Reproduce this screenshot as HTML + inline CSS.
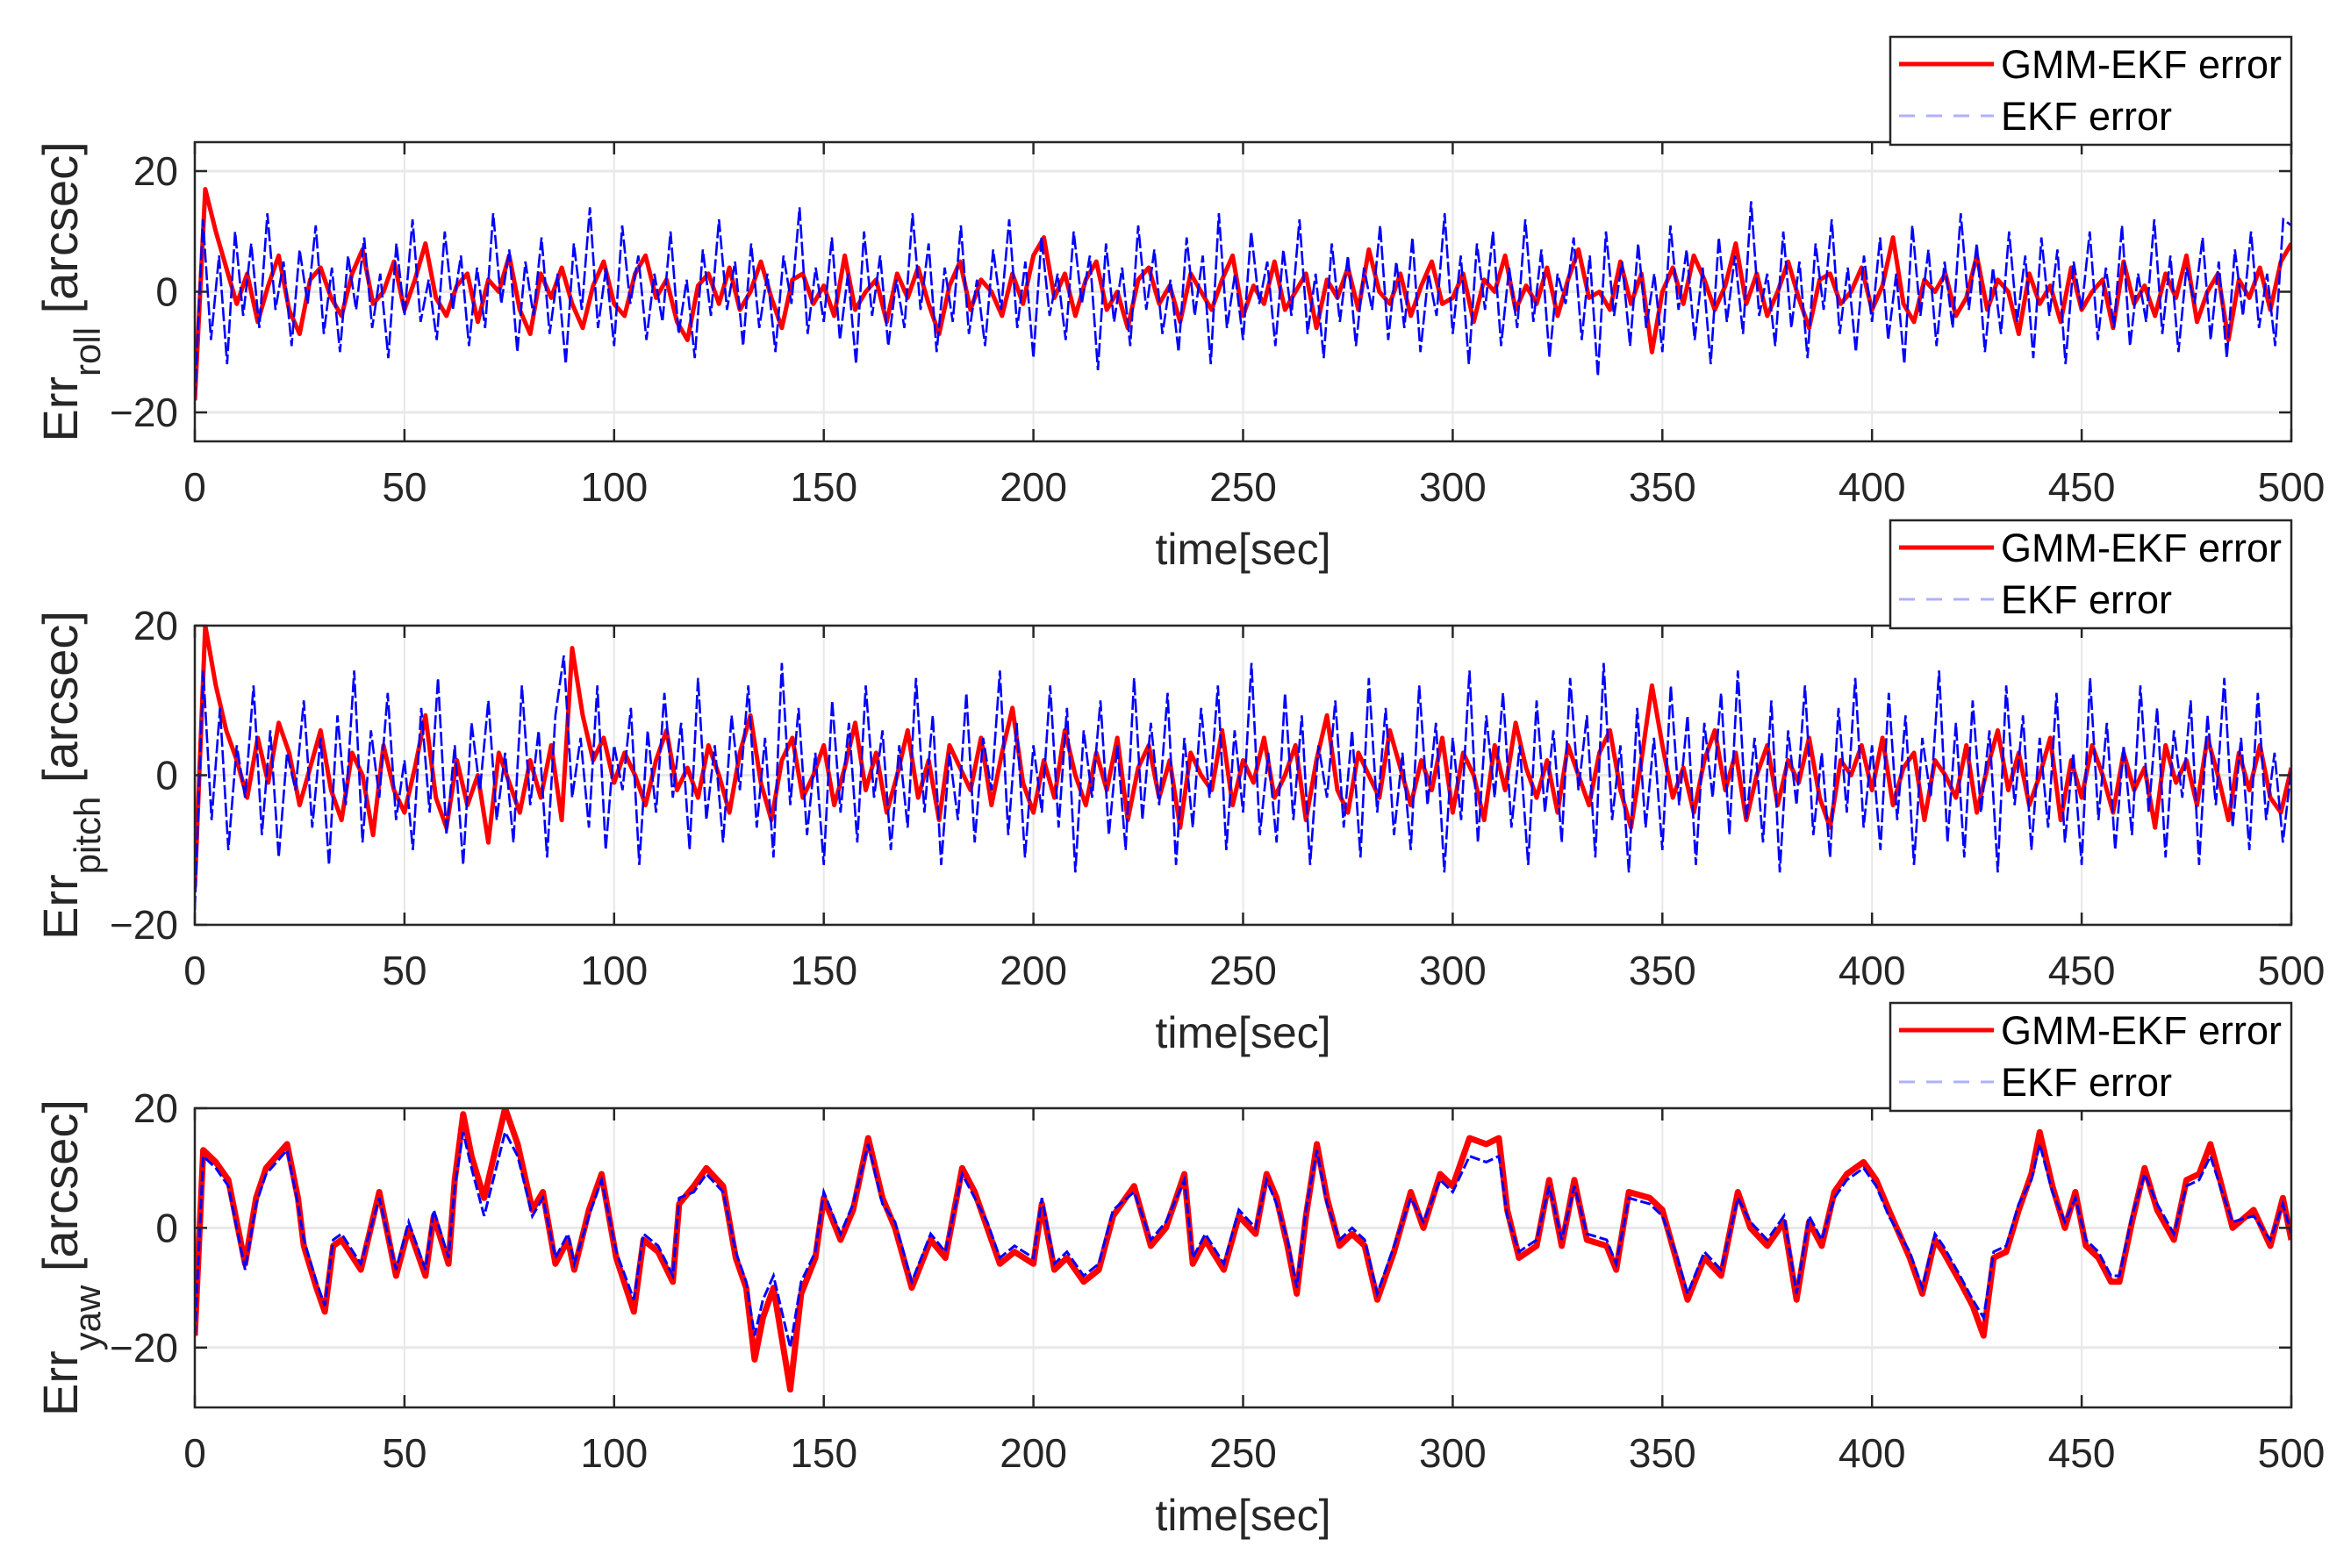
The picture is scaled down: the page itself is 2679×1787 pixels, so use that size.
<!DOCTYPE html>
<html><head><meta charset="utf-8"><style>
html,body{margin:0;padding:0;background:#fff;}
svg{display:block;font-family:"Liberation Sans",sans-serif;}
</style></head><body>
<svg id="chart" width="2679" height="1787" viewBox="0 0 2679 1787" xmlns="http://www.w3.org/2000/svg">
<rect width="2679" height="1787" fill="#fff"/>
</svg>
<script>
// ---------- data ----------
const xTicks = [0,50,100,150,200,250,300,350,400,450,500];
const rollYTicks = [-20,0,20];
const pitchYTicks = [-20,0,20];
const yawYTicks = [-20,0,20];

const rollBlue = [-18,12,-8,6,-12,10,-4,8,-6,13,-3,5,-9,7,-2,11,-7,4,-10,6,
-3,9,-6,3,-11,8,-4,12,-5,2,-8,10,-3,6,-9,4,-6,13,-2,7,
-10,5,-4,9,-7,3,-12,8,-3,14,-6,4,-9,11,-2,6,-8,3,-5,10,
-7,2,-11,7,-4,12,-3,5,-9,8,-6,3,-10,6,-2,14,-7,4,-5,9,
-8,3,-12,10,-4,6,-9,2,-6,13,-3,8,-10,4,-5,11,-7,2,-9,7,
-3,12,-6,5,-11,9,-4,3,-8,10,-2,6,-13,8,-5,4,-9,11,-3,7,
-7,2,-10,9,-4,6,-12,13,-6,3,-8,10,-2,5,-9,7,-4,12,-7,3,
-11,8,-5,6,-9,4,-3,11,-8,5,-6,9,-10,3,-4,13,-7,6,-12,8,
-3,10,-9,4,-6,12,-5,7,-11,3,-2,9,-8,6,-14,10,-4,5,-9,8,
-6,3,-10,11,-3,7,-8,4,-12,9,-5,6,-7,15,-4,3,-9,10,-6,5,
-11,8,-3,12,-7,4,-10,6,-5,9,-8,3,-12,11,-4,7,-9,5,-6,13,
-3,8,-10,4,-7,10,-5,6,-11,9,-4,7,-12,5,-3,10,-8,4,-6,11,
-9,3,-5,12,-7,6,-10,4,-2,9,-8,5,-11,7,-4,10,-6,3,-9,12,11];
const rollRed = [-18,17,10,4,-2,3,-5,1,6,-3,-7,2,4,-1,-4,3,7,-2,0,5,
-3,2,8,-1,-4,1,3,-5,2,0,6,-3,-7,3,-1,4,-2,-6,1,5,
-2,-4,3,6,-1,2,-5,-8,1,3,-2,4,-3,0,5,-1,-6,2,3,-2,
1,-4,6,-3,0,2,-5,3,-1,4,-2,-7,1,5,-3,2,0,-4,3,-2,
6,9,-1,3,-4,2,5,-3,0,-6,2,4,-2,1,-5,3,0,-3,2,6,
-4,1,-2,5,-3,0,3,-6,2,-1,4,-3,7,0,-2,3,-4,1,5,-2,
-1,3,-5,2,0,6,-3,1,-2,4,-4,2,7,-1,0,-3,5,-2,3,-10,
0,4,-2,6,2,-3,1,8,-2,3,-4,0,5,-1,-6,2,3,-2,0,4,
-3,1,9,-2,-5,2,0,3,-4,-1,6,-3,2,0,-7,3,-2,1,-5,4,
-3,0,2,-6,5,-2,1,-4,3,-1,6,-5,0,3,-8,2,-1,4,-3,5,8];

const pitchBlue = [-18,14,-6,9,-10,4,-3,12,-8,6,-11,3,-2,10,-7,5,-12,8,-4,14,
-9,6,-3,11,-6,2,-10,9,-5,13,-8,4,-12,7,-2,10,-6,3,-9,12,
-4,6,-11,8,16,-3,5,-7,12,-10,4,-2,9,-12,6,-5,11,-3,7,-10,
13,-6,4,-9,8,-2,12,-7,5,-11,15,-4,9,-8,3,-12,10,-5,7,-9,
12,-3,6,-10,4,-7,13,-5,8,-12,3,-6,11,-9,5,-2,14,-8,7,-11,
4,-5,12,-7,9,-13,6,-3,10,-8,4,-10,13,-6,7,-4,11,-12,5,-7,
9,-3,12,-10,6,-5,15,-8,3,-9,11,-6,8,-12,4,-3,10,-7,6,-11,
13,-5,9,-8,3,-10,12,-4,7,-13,5,-6,14,-9,8,-3,11,-7,4,-12,
10,-5,6,-9,13,-2,8,-11,15,-6,4,-13,9,-7,5,-10,12,-4,8,-12,
7,-3,11,-8,14,-6,5,-9,10,-13,6,-4,12,-8,3,-11,9,-5,13,-7,
4,-10,11,-6,8,-12,5,-3,14,-9,7,-11,10,-5,6,-13,12,-4,8,-10,
5,-7,11,-9,3,-12,13,-6,7,-10,4,-8,12,-5,9,-11,6,-3,10,-12,
8,-4,13,-7,5,-10,11,-6,3,-9,1];
const pitchRed = [-15,20,12,6,2,-3,5,-1,7,3,-4,1,6,-2,-6,3,0,-8,4,-2,
-5,1,8,-3,-7,2,-4,0,-9,3,-1,-5,2,-3,4,-6,17,8,2,5,
-1,3,0,-4,2,6,-2,1,-3,4,0,-5,3,8,-1,-6,2,5,-3,0,
4,-4,1,7,-2,3,-5,0,6,-3,2,-6,4,1,-2,5,-4,3,9,-1,
-5,2,-3,6,0,-4,3,-2,5,-6,1,4,-3,2,-7,3,0,-2,6,-4,
2,-1,5,-3,0,4,-6,2,8,-2,-5,3,0,-3,6,1,-4,2,-2,5,
-5,3,0,-6,4,-2,7,1,-3,2,-5,4,0,-4,3,6,-2,-7,2,12,
4,-3,1,-5,2,6,-2,3,-6,0,4,-4,2,-1,5,-3,-7,2,0,4,
-2,5,-4,1,3,-6,2,0,-3,4,-5,1,6,-2,3,-4,0,5,-6,2,
-3,4,0,-5,3,-2,1,-7,4,-1,2,-4,5,0,-6,3,-2,4,-3,-5,1];

const yawTime = [0,2,5,8,12,14.6,17,22,24.6,26,29,31,33,35,39.6,44,48,51,55,57,
60.5,62,64,66,69,74,77,80.5,83,86,89,90.5,94,97,100.5,104.7,107,110.5,114,115.5,
119,122,126,129,131.5,133.5,135.5,138,142,144.6,148,150,154,157,160.6,164,167,171,175.5,179,
183,186,189,192,195.5,200,202,205,208,212,215.6,219,224,228,231.6,236,238,241,245.4,249,
253,255.6,258,260.6,262.8,265,267.6,270,273,276,279,282,286,290,293,297,300,304,308,311,
313,315.8,320,323,326,329,332,336.7,339,342,347,350,353.6,356,360,364,368,371,375,379,
382,385,388,391,394,398,401,404,409,412,415,417,421,424,426.6,429,432,435,438,440,
443,446,448.5,451,454,457,459,462,465,468,472,475,478,480.7,483,486,491,495,498,500];
const yawRed = [-18,13,11,8,-6,5,10,14,5,-3,-10,-14,-3,-2,-7,6,-8,0,-8,2,
-6,8,19,12,5,20,14,3,6,-6,-2,-7,3,9,-5,-14,-2,-4,-9,4,
7,10,7,-5,-10,-22,-15,-10,-27,-11,-5,5,-2,3,15,5,0,-10,-2,-5,
10,6,0,-6,-4,-6,4,-7,-5,-9,-7,2,7,-3,0,9,-6,-2,-7,2,
-1,9,5,-3,-11,2,14,5,-3,-1,-3,-12,-4,6,0,9,7,15,14,15,
3,-5,-3,8,-3,8,-2,-3,-7,6,5,3,-6,-12,-5,-8,6,0,-3,1,
-12,1,-3,6,9,11,8,3,-5,-11,-2,-4,-9,-13,-18,-5,-4,3,9,16,
7,0,6,-3,-5,-9,-9,1,10,3,-2,8,9,14,8,0,3,-3,5,-2];
const yawBlue = [-18,12,10,7,-7,4,9,13,4,-2,-9,-13,-2,-1,-6,5,-7,1,-7,3,
-5,7,16,10,2,16,12,2,5,-5,-1,-6,2,8,-4,-12,-1,-3,-8,5,
6,9,6,-4,-9,-18,-12,-8,-20,-9,-4,6,-1,4,14,4,1,-9,-1,-4,
9,5,1,-5,-3,-5,5,-6,-4,-8,-6,3,6,-2,1,8,-5,-1,-6,3,
0,8,4,-2,-10,3,13,4,-2,0,-2,-11,-3,5,1,8,6,12,11,12,
2,-4,-2,7,-2,7,-1,-2,-6,5,4,2,-5,-11,-4,-7,5,1,-2,2,
-11,2,-2,5,8,10,7,2,-4,-10,-1,-3,-8,-12,-15,-4,-3,4,8,14,
6,1,5,-2,-4,-8,-8,2,9,4,-1,7,8,12,7,1,2,-2,4,-1];

// ---------- drawing ----------
const NS = "http://www.w3.org/2000/svg";
const svg = document.getElementById('chart');
const X0 = 222, X1 = 2611;
const xs = t => X0 + (t/500)*(X1-X0);
const evenTimes = arr => arr.map((v,i)=> i*500/(arr.length-1));
function mk(tag, attrs, parent){
  const e = document.createElementNS(NS, tag);
  for (const k in attrs) e.setAttribute(k, attrs[k]);
  (parent||svg).appendChild(e);
  return e;
}
const panels = [
  {key:'roll', top:162, bot:503, ymin:-24.8, ymax:24.8, yt:rollYTicks, sub:'roll',
   tRed: evenTimes(rollRed), red: rollRed, tBlue: evenTimes(rollBlue), blue: rollBlue, redW:5, blueW:2.6, noisy:true},
  {key:'pitch', top:713, bot:1054, ymin:-20, ymax:20, yt:pitchYTicks, sub:'pitch',
   tRed: evenTimes(pitchRed), red: pitchRed, tBlue: evenTimes(pitchBlue), blue: pitchBlue, redW:5, blueW:2.6, noisy:true},
  {key:'yaw', top:1263, bot:1604, ymin:-30, ymax:20, yt:yawYTicks, sub:'yaw',
   tRed: yawTime, red: yawRed, tBlue: yawTime, blue: yawBlue, redW:7, blueW:3, noisy:false}
];
panels.forEach(p=>{
  const g = mk('g', {});
  
  
  const ys = v => p.bot - (v-p.ymin)/(p.ymax-p.ymin)*(p.bot-p.top);
  xTicks.forEach(t=>{
    const l = mk('line', {x1:xs(t), x2:xs(t), y1:p.top, y2:p.bot, stroke:'#e8e8e8', 'stroke-width':2}, g);
    
    
  });
  p.yt.forEach(v=>{
    const l = mk('line', {x1:X0, x2:X1, y1:ys(v), y2:ys(v), stroke:'#e8e8e8', 'stroke-width':3}, g);
    
    
  });
  const clipId = 'clip-'+p.key;
  const cp = mk('clipPath', {id:clipId}, g);
  mk('rect', {x:X0, y:p.top, width:X1-X0, height:p.bot-p.top}, cp);
  const redPts = p.red.map((v,i)=>xs(p.tRed[i]).toFixed(1)+','+ys(v).toFixed(1)).join(' ');
  const red = mk('polyline', {points:redPts, fill:'none', stroke:'#ff0000', 'stroke-width':p.redW, 'stroke-linejoin':'round', 'clip-path':'url(#'+clipId+')'}, g);
  
  
  const bluePts = p.blue.map((v,i)=>xs(p.tBlue[i]).toFixed(1)+','+ys(v).toFixed(1)).join(' ');
  const blue = mk('polyline', {points:bluePts, fill:'none', stroke:'#0000ff', 'stroke-width':p.blueW, 'stroke-dasharray': p.noisy?'16 4':'12 4', 'clip-path':'url(#'+clipId+')'}, g);
  
  
  const box = mk('rect', {x:X0, y:p.top, width:X1-X0, height:p.bot-p.top, fill:'none', stroke:'#262626', 'stroke-width':2.5}, g);
  
  
  xTicks.forEach(t=>{
    mk('line', {x1:xs(t), x2:xs(t), y1:p.bot, y2:p.bot-14, stroke:'#262626', 'stroke-width':2.5}, g);
    mk('line', {x1:xs(t), x2:xs(t), y1:p.top, y2:p.top+14, stroke:'#262626', 'stroke-width':2.5}, g);
    const tx = mk('text', {x:xs(t), y:p.bot+68, 'font-size':46, fill:'#262626', 'text-anchor':'middle'}, g);
    tx.textContent = t;
    
    
  });
  p.yt.forEach(v=>{
    mk('line', {x1:X0, x2:X0+14, y1:ys(v), y2:ys(v), stroke:'#262626', 'stroke-width':2.5}, g);
    mk('line', {x1:X1, x2:X1-14, y1:ys(v), y2:ys(v), stroke:'#262626', 'stroke-width':2.5}, g);
    const tx = mk('text', {x:203, y:ys(v)+16, 'font-size':46, fill:'#262626', 'text-anchor':'end'}, g);
    tx.textContent = v<0 ? '\u2212'+Math.abs(v) : v;
    
    
  });
  const xl = mk('text', {x:(X0+X1)/2, y:p.bot+140, 'font-size':50, fill:'#262626', 'text-anchor':'middle'}, g);
  xl.textContent = 'time[sec]';
  
  
  const cy = (p.top+p.bot)/2;
  const yl = mk('text', {x:0, y:0, 'font-size':56, fill:'#262626', 'text-anchor':'middle', transform:'translate(88,'+cy+') rotate(-90)'}, g);
  
  
  const s1 = mk('tspan', {}, yl); s1.textContent = 'Err';
  const s2 = mk('tspan', {dy:26, 'font-size':42}, yl); s2.textContent = p.sub;
  const s3 = mk('tspan', {dy:-26}, yl); s3.textContent = ' [arcsec]';
  const lt = p.top - 120;
  const lg = mk('g', {}, g);
  
  
  mk('rect', {x:2154, y:lt, width:457, height:123, fill:'#fff', stroke:'#262626', 'stroke-width':2.5}, lg);
  const r1 = mk('line', {x1:2164, x2:2272, y1:lt+31, y2:lt+31, stroke:'#ff0000', 'stroke-width':5}, lg);
  
  
  const t1 = mk('text', {x:2280, y:lt+47, 'font-size':45, fill:'#000'}, lg);
  t1.textContent = 'GMM-EKF error';
  const r2 = mk('line', {x1:2164, x2:2272, y1:lt+90, y2:lt+90, stroke:'#b0b0ff', 'stroke-width':3, 'stroke-dasharray':'18 13'}, lg);
  
  
  const t2 = mk('text', {x:2280, y:lt+106, 'font-size':45, fill:'#000'}, lg);
  t2.textContent = 'EKF error';
});
</script>
</body></html>
